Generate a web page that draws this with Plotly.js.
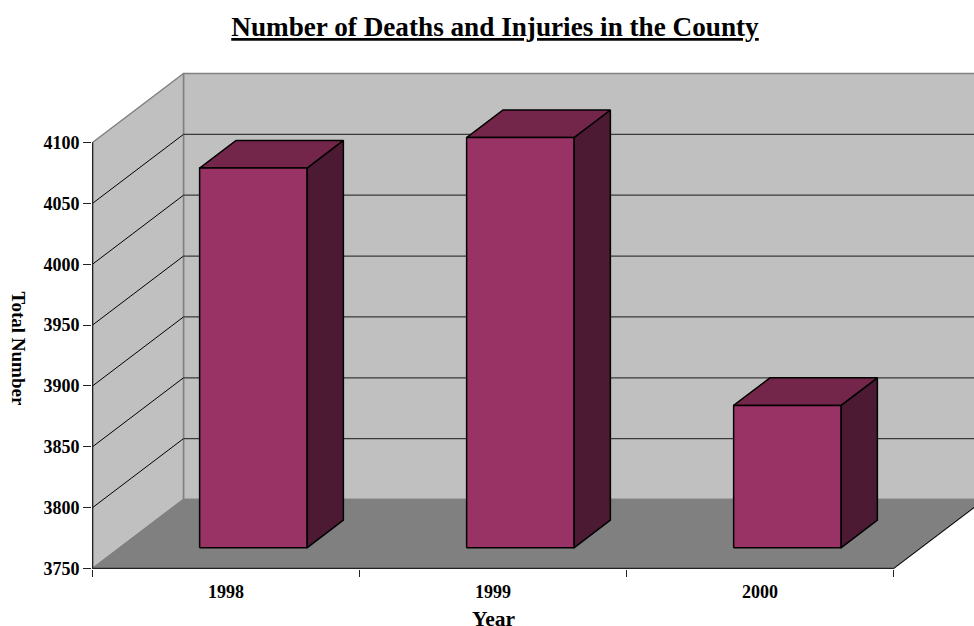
<!DOCTYPE html>
<html>
<head>
<meta charset="utf-8">
<script src="https://cdn.plot.ly/plotly-3.0.1.min.js"></script>
<style>html,body{margin:0;padding:0;background:#fff;overflow:hidden}</style>
</head>
<body>
<div id="chart" style="width:974px;height:626px"></div>
<script>
// Data
const years = ["1998", "1999", "2000"];
const totals = [4062, 4087, 3867];
const yTicks = [3750, 3800, 3850, 3900, 3950, 4000, 4050, 4100];
const chartTitle = "Number of Deaths and Injuries in the County";
const xTitle = "Year";
const yTitle = "Total Number";

// Scale and oblique-projection settings of the 3-D look
const pxX = 267, pxY = 426 / 350;
const baseValue = 3750, topValue = 4100;
const depthX = 91 / pxX, depthY = 69 / pxY;     // full floor depth, in axis units
const barNear = 0.3, barFar = 0.7;
const barHalf = 0.201;
const serif = '"Liberation Serif","Times New Roman",serif';

function pt(x, v, d) { return [x + d * depthX, v + d * depthY]; }
function poly(points, fill, line, width) {
  return {
    type: 'scatter', mode: 'lines', hoverinfo: 'skip', showlegend: false, cliponaxis: false,
    x: points.map(p => p[0]), y: points.map(p => p[1]),
    fill: fill ? 'toself' : 'none', fillcolor: fill || undefined,
    line: {color: line || 'rgba(0,0,0,0)', width: width === undefined ? 1 : width}
  };
}
const n = years.length;
const traces = [];
// walls and floor
traces.push(poly([pt(0,baseValue,1), pt(n+0.5,baseValue,1), pt(n+0.5,topValue,1), pt(0,topValue,1), pt(0,baseValue,1)], '#c0c0c0', '#808080', 1.5));
traces.push(poly([pt(0,baseValue,0), pt(0,baseValue,1), pt(0,topValue,1), pt(0,topValue,0), pt(0,baseValue,0)], '#c0c0c0', '#808080', 1.5));
traces.push(poly([pt(0,baseValue,0), pt(n,baseValue,0), pt(n,baseValue,1), pt(0,baseValue,1), pt(0,baseValue,0)], '#808080', '#808080', 1.5));
// gridlines
yTicks.slice(1, -1).forEach(v => {
  traces.push(poly([pt(0,v,0), pt(0,v,1)], null, '#000', 1));
  traces.push(poly([pt(0,v,1), pt(n+0.5,v,1)], null, '#3a3a3a', 1.3));
});
// axis lines
traces.push(poly([pt(0,topValue,0), pt(0,baseValue,0), pt(n,baseValue,0)], null, '#222', 1.5));
traces.push(poly([pt(n,baseValue,0), pt(n,baseValue,1)], null, '#000', 1));
// bars
years.forEach((yr, i) => {
  const c = i + 0.5, l = c - barHalf, r = c + barHalf, v = totals[i], b = baseValue;
  traces.push(poly([pt(r,b,barNear), pt(r,b,barFar), pt(r,v,barFar), pt(r,v,barNear), pt(r,b,barNear)], '#4d1a33', '#000', 1.5));
  traces.push(poly([pt(l,v,barNear), pt(r,v,barNear), pt(r,v,barFar), pt(l,v,barFar), pt(l,v,barNear)], '#732649', '#000', 1.5));
  traces.push(poly([pt(l,b,barNear), pt(r,b,barNear), pt(r,v,barNear), pt(l,v,barNear), pt(l,b,barNear)], '#993366', '#000', 1.5));
});

const W = 974, H = 626, mL = 92, mT = 40, mB = 57;
const halfX = 0.5 / pxX, halfY = 0.5 / pxY;   // half-pixel nudge so that lines land on whole rows
const layout = {
  width: W, height: H,
  margin: {l: mL, r: 0, t: mT, b: mB, pad: 0},
  paper_bgcolor: '#fff', plot_bgcolor: '#fff',
  showlegend: false,
  font: {family: serif, color: '#000', size: 18, weight: 700},
  title: {text: '<u>' + chartTitle + '</u>', font: {family: serif, size: 27.2, weight: 700, color: '#000'},
          x: 495 / W, xref: 'container', xanchor: 'center', y: 1 - 26.5 / H, yref: 'container', yanchor: 'middle'},
  xaxis: {
    range: [-halfX, (W - mL) / pxX - halfX], showgrid: false, zeroline: false, showline: false,
    tickmode: 'array', tickvals: years.map((_, i) => i + 0.5), ticktext: years,
    ticks: '', ticklabelstandoff: 10,
    tickfont: {family: serif, size: 18, weight: 700, color: '#000'},
    minor: {tickmode: 'linear', tick0: 0, dtick: 1, ticks: 'outside', ticklen: 7, tickwidth: 1, tickcolor: '#222', showgrid: false}
  },
  yaxis: {
    range: [baseValue - halfY, baseValue - halfY + (H - mT - mB) / pxY], showgrid: false, zeroline: false, showline: false,
    tickmode: 'array', tickvals: yTicks, ticks: 'outside', ticklen: 8, tickwidth: 1, tickcolor: '#222',
    tickfont: {family: serif, size: 18, weight: 700, color: '#000'}
  },
  annotations: [
    {text: xTitle, xref: 'paper', yref: 'paper', x: (493 - mL) / (W - mL), y: (H - mB - 618.5) / (H - mT - mB), xanchor: 'center', yanchor: 'middle', showarrow: false,
     font: {family: serif, size: 21.5, weight: 700, color: '#000'}},
    {text: yTitle, xref: 'paper', yref: 'paper', x: (18 - mL) / (W - mL), y: (H - mB - 348.5) / (H - mT - mB), xanchor: 'center', yanchor: 'middle', showarrow: false, textangle: 90,
     font: {family: serif, size: 19, weight: 700, color: '#000'}}
  ]
};
Plotly.newPlot('chart', traces, layout, {displayModeBar: false, staticPlot: true});
</script>
</body>
</html>
